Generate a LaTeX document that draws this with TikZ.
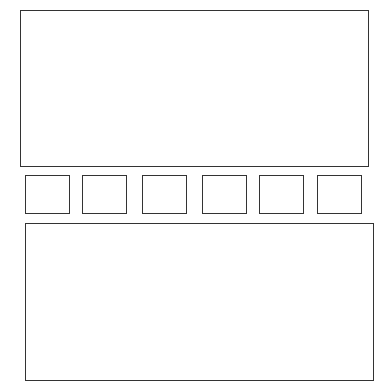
\documentclass[tikz,border=0pt]{standalone}
\usepackage{tikz}
\usetikzlibrary{positioning}

\begin{document}
\begin{tikzpicture}[x=1pt, y=-1pt,
  panel/.style={rectangle, draw=black!80, line width=1.3pt, inner sep=0pt,
                anchor=north west},
  cell/.style ={rectangle, draw=black!80, line width=1.3pt, inner sep=0pt,
                minimum width=44pt, minimum height=38pt, anchor=north west}
]
  \useasboundingbox (0,0) rectangle (385,383);
  \node[panel, minimum width=348pt, minimum height=156pt] (upper) at (20,10) {};
  \foreach \i/\x in {1/25, 2/82, 3/142, 4/202, 5/259, 6/317}
    \node[cell] (c\i) at (\x,175) {};
  \node[panel, minimum width=348pt, minimum height=157pt] (lower) at (25,223) {};
\end{tikzpicture}
\end{document}
